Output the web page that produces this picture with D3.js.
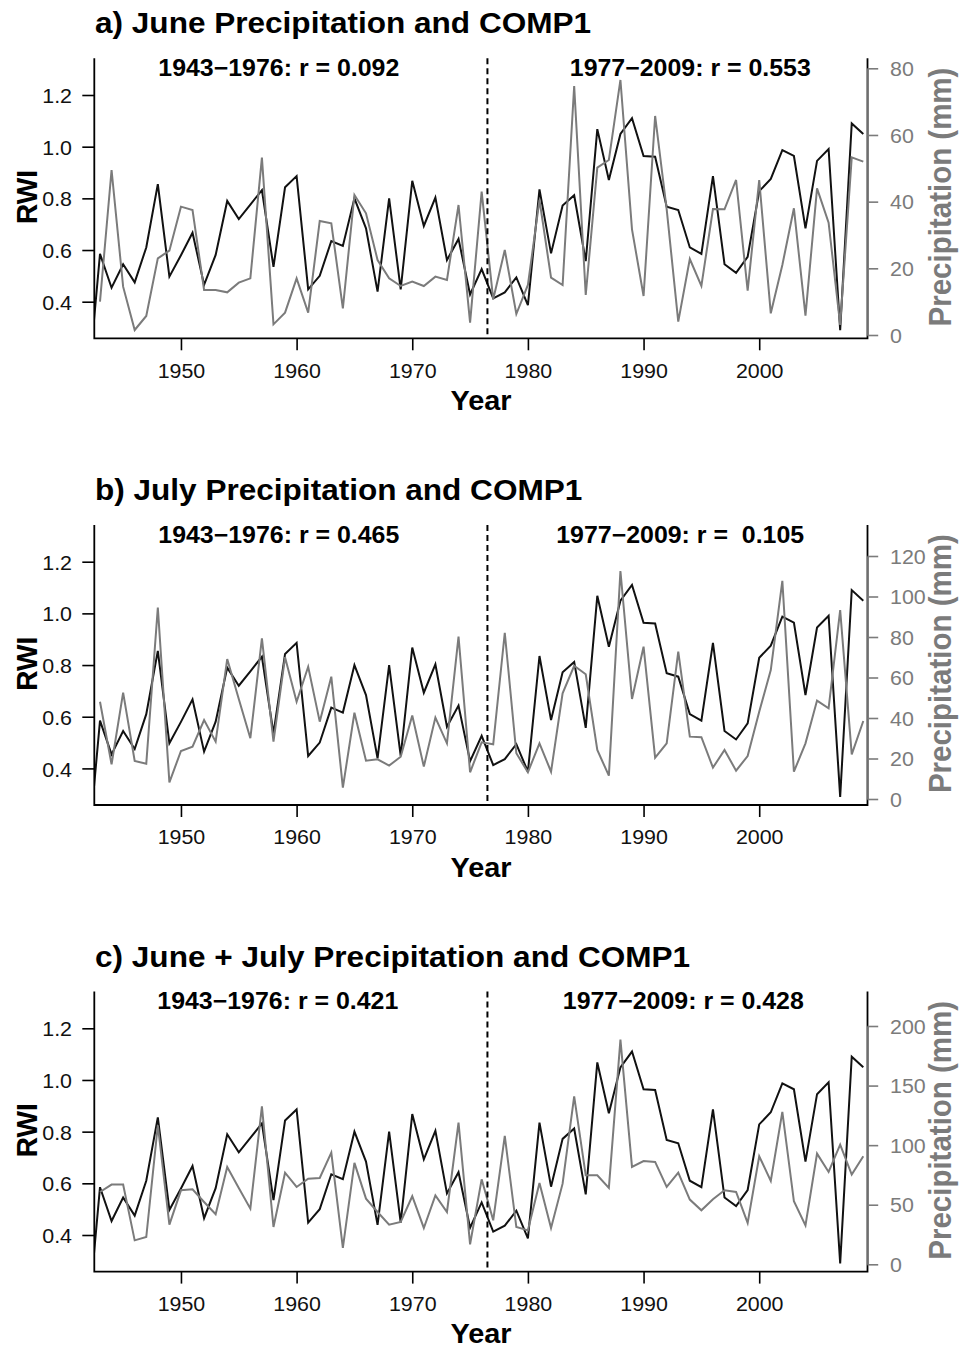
<!DOCTYPE html>
<html><head><meta charset="utf-8">
<script src="https://cdn.jsdelivr.net/npm/d3@7"></script>
<style>
body{margin:0;background:#fff}
svg{display:block;background:#fff}
text{font-family:"Liberation Sans",Arial,Helvetica,sans-serif}
</style>
</head><body>
<svg id="chart" width="960" height="1348"></svg>
<script>
// ---------------- data ----------------
const rwiStartYear = 1942;
const rwi = [0.09,
  0.585,0.454,0.545,0.475,0.61,0.855,0.497,0.58,0.667,0.465,
  0.581,0.79,0.72,0.776,0.832,0.535,0.843,0.886,0.448,0.5,
  0.635,0.616,0.8,0.684,0.439,0.8,0.448,0.868,0.693,0.803,
  0.561,0.643,0.428,0.526,0.413,0.436,0.494,0.387,0.835,0.587,
  0.772,0.812,0.557,1.068,0.871,1.049,1.11,0.964,0.961,0.768,
  0.755,0.61,0.585,0.886,0.545,0.512,0.574,0.828,0.875,0.987,
  0.964,0.684,0.945,0.991,0.29,1.09,1.049];
const precipStartYear = 1943;
const junePrecip = [10,49.5,14.5,1.5,5.7,23,25.3,38.5,37.5,13.5,
  13.5,12.8,15.7,17,53.2,3.2,6.7,17,6.7,34.2,
  33.5,8,42,36.5,22.5,17,14.7,16,14.7,17.5,
  16.5,39,3.7,43,10.7,25.5,6.3,15,40.5,17.2,
  15,74.7,12,50.2,52.5,76.5,31.7,11.7,65.7,37.7,
  4,22.8,14.7,37.8,37.7,46.5,13.3,46.5,6.5,21,
  38,5.8,44,33.7,3,53.3,52];
const julyPrecip = [48,17.1,52.5,18.8,17.4,94.5,8.2,23.7,25.8,39,
  28.3,69.1,49.4,30,79.3,28.3,70,48,65.3,38.2,
  60.4,5.6,42.6,18.9,19.6,16.5,20.9,41.2,16,40.2,
  27.5,80.2,13.2,28,27,82.1,22.6,13.2,27.5,13.5,
  52.2,65.8,61.6,24.2,11.5,112.6,49.4,75.2,20.4,27.5,
  72.8,30.8,30.5,15.5,24.2,14,21.2,43.1,63.7,107.7,
  13.5,27.5,48.6,44.8,93.3,22,38.5];
const junJulPrecip = [60.7,66.9,66.9,20.1,22.9,116.7,33.3,62.1,63,52.3,
  42,81.7,64.1,46.7,132.6,31.3,76.9,64.9,71.9,72.5,
  93.7,13.7,85.1,55.1,43.9,33.3,35.5,57.1,30.5,57.9,
  43.9,118.9,16.8,71.3,36.9,107.7,31.3,28.5,68.3,30.5,
  67.7,141,74.7,74.7,64.1,188.6,81.7,86.7,85.9,64.9,
  76.9,54.3,45.3,54.6,62.1,60.7,34.7,90.7,70,127.9,
  52.9,32.7,92.9,77.5,100.4,75.3,90.7];

const panelTitles = ["a) June Precipitation and COMP1",
                     "b) July Precipitation and COMP1",
                     "c) June + July Precipitation and COMP1"];
const corrEarly = ["1943\u22121976: r = 0.092","1943\u22121976: r = 0.465","1943\u22121976: r = 0.421"];
const corrLate  = ["1977\u22122009: r = 0.553","1977\u22122009: r =  0.105","1977\u22122009: r = 0.428"];
const yearTicks = [1950,1960,1970,1980,1990,2000];
const yearMinorTicks = d3.range(1943, 2010);
const rwiTicks = [0.4,0.6,0.8,1.0,1.2];
const rwiMinorTicks = [0.3,0.5,0.7,0.9,1.1,1.3];
const precipTicks = [[0,20,40,60,80],[0,20,40,60,80,100,120],[0,50,100,150,200]];
const splitYear = 1976.5;
const xLabel = "Year", yLabel = "RWI", y2Label = "Precipitation (mm)";

// ---------------- layout ----------------
const SX = 1.07;               // horizontal stretch of the original raster
const FONT = '"Liberation Sans",Arial,Helvetica,sans-serif';
const GRAY = "#7b7b7b";
const panelOffsets = [0, 466.7, 933.3];
const L = 94.3, R = 867.5, T = 58.3, B = 338.3;
const precipSeries = [junePrecip, julyPrecip, junJulPrecip];
const precipRanges = [[335, 68.3],[332.3, 89.3],[331, 92.7]];
const corrEarlyX = [278.8, 278.8, 277.8];
const corrLateX = [690.3, 680.2, 683.3];

const svg = d3.select("#chart");
svg.append("rect").attr("width",960).attr("height",1348).attr("fill","#fff");
svg.append("defs").append("clipPath").attr("id","plotClip")
  .append("rect").attr("x",L).attr("y",T).attr("width",R-L).attr("height",B-T);

const x = d3.scaleLinear().domain([1943, 2009]).range([100, 863.3]);
const yR = d3.scaleLinear().domain([0.4, 1.2]).range([301.7, 95]);

const rwiData = rwi.map((v,i)=>({year: rwiStartYear+i, v}));

function hText(g, xx, yy, s, size, weight, anchor, fill){
  return g.append("text")
    .attr("transform", `translate(${xx},${yy}) scale(${SX},1)`)
    .attr("font-size", size).attr("font-weight", weight)
    .attr("text-anchor", anchor).attr("fill", fill)
    .style("white-space","pre").text(s);
}
function vText(g, xx, yy, s, size, fill){
  return g.append("text")
    .attr("transform", `translate(${xx},${yy}) rotate(-90) scale(1,${SX})`)
    .attr("font-size", size).attr("font-weight", "bold")
    .attr("text-anchor", "middle").attr("fill", fill).text(s);
}

panelTitles.forEach((title, i) => {
  const g = svg.append("g").attr("transform", `translate(0,${panelOffsets[i]})`);
  const pdata = precipSeries[i].map((v,k)=>({year: precipStartYear+k, v}));
  const yP = d3.scaleLinear()
    .domain([0, precipTicks[i][precipTicks[i].length-1]])
    .range(precipRanges[i]);

  // title & correlation texts
  hText(g, 95, 33.3, title, 29.5, "bold", "start", "#000");
  hText(g, corrEarlyX[i], 76, corrEarly[i], 23.3, "bold", "middle", "#000");
  hText(g, corrLateX[i], 76, corrLate[i], 23.3, "bold", "middle", "#000");

  // series
  const plot = g.append("g").attr("clip-path","url(#plotClip)");
  plot.append("path").datum(rwiData)
    .attr("d", d3.line().x(d=>x(d.year)).y(d=>yR(d.v)))
    .attr("fill","none").attr("stroke","#111").attr("stroke-width",2)
    .attr("stroke-linejoin","miter");
  plot.append("path").datum(pdata)
    .attr("d", d3.line().x(d=>x(d.year)).y(d=>yP(d.v)))
    .attr("fill","none").attr("stroke",GRAY).attr("stroke-width",2)
    .attr("stroke-linejoin","miter");

  // split line
  g.append("line").attr("x1",x(splitYear)).attr("x2",x(splitYear))
    .attr("y1",T).attr("y2",B).attr("stroke","#000")
    .attr("stroke-width",2).attr("stroke-dasharray","6,4");

  // box (left, bottom, right)
  g.append("path").attr("d",`M${L},${T}V${B}H${R}V${T}`)
    .attr("fill","none").attr("stroke","#000").attr("stroke-width",1.8);

  // bottom axis
  const ax = g.append("g").attr("transform",`translate(0,${B})`);
  ax.call(d3.axisBottom(x).tickValues(yearMinorTicks).tickSize(7).tickFormat(""));
  ax.call(d3.axisBottom(x).tickValues(yearTicks).tickSize(12).tickFormat(d3.format("d")));
  ax.select(".domain").remove();
  ax.selectAll("line").attr("stroke","#000").attr("stroke-width",1.6);
  ax.selectAll("text").attr("y",39.4).attr("dy",null)
    .attr("transform",`scale(${SX},1)`)
    .attr("font-size",20).attr("font-family",FONT).attr("fill","#111");

  // left axis
  const ay = g.append("g").attr("transform",`translate(${L},0)`);
  ay.call(d3.axisLeft(yR).tickValues(rwiMinorTicks).tickSize(7).tickFormat(""));
  ay.call(d3.axisLeft(yR).tickValues(rwiTicks).tickSize(12).tickFormat(d3.format(".1f")));
  ay.select(".domain").remove();
  ay.selectAll("line").attr("stroke","#000").attr("stroke-width",1.6);
  ay.selectAll("text").attr("x",-22.3).attr("dy","0.38em")
    .attr("transform",`scale(${SX},1)`)
    .attr("font-size",20).attr("font-family",FONT).attr("fill","#111");
  ay.selectAll("text").attr("x", -22.3/SX);

  // right axis (precipitation)
  const a2 = g.append("g").attr("transform",`translate(${R},0)`);
  a2.call(d3.axisRight(yP).tickValues(precipTicks[i]).tickSize(10.7).tickSizeOuter(0).tickFormat(d3.format("d")));
  a2.select(".domain").attr("stroke",GRAY).attr("stroke-width",1.8);
  a2.selectAll("line").attr("stroke",GRAY).attr("stroke-width",1.6);
  a2.selectAll("text").attr("x",22.5/SX).attr("dy","0.36em")
    .attr("transform",`scale(${SX},1)`)
    .attr("font-size",20).attr("font-family",FONT).attr("fill",GRAY);

  // axis titles
  hText(g, 481, 410, xLabel, 27, "bold", "middle", "#000");
  vText(g, 37, 197, yLabel, 28, "#000");
  vText(g, 951, 197, y2Label, 29.5, GRAY);
});
</script>
</body></html>
